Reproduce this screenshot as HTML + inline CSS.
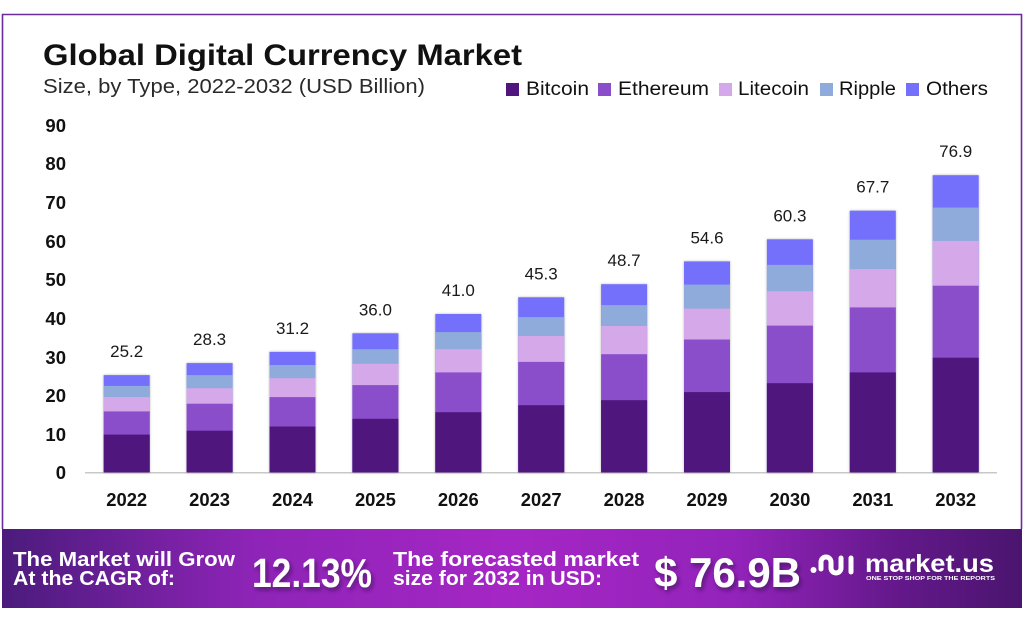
<!DOCTYPE html>
<html>
<head>
<meta charset="utf-8">
<style>
html,body{margin:0;padding:0;background:#fff;}
svg{display:block;}
text{font-family:"Liberation Sans",sans-serif;}
</style>
</head>
<body>
<svg width="1024" height="621" viewBox="0 0 1024 621" xmlns="http://www.w3.org/2000/svg">
<defs>
  <linearGradient id="band" x1="0" y1="0" x2="1" y2="0">
    <stop offset="0" stop-color="#4b1b7c"/>
    <stop offset="0.25" stop-color="#8f24b8"/>
    <stop offset="0.5" stop-color="#a526c4"/>
    <stop offset="0.72" stop-color="#9323bb"/>
    <stop offset="0.88" stop-color="#63188a"/>
    <stop offset="1" stop-color="#4a156e"/>
  </linearGradient>
  <filter id="bs" x="-20%" y="-10%" width="140%" height="120%">
    <feDropShadow dx="0" dy="0" stdDeviation="1.4" flood-color="#777" flood-opacity="0.55"/>
  </filter>
  <filter id="ts" x="-10%" y="-20%" width="130%" height="150%">
    <feDropShadow dx="2" dy="3" stdDeviation="2" flood-color="#2a0845" flood-opacity="0.6"/>
  </filter>
</defs>

<rect x="0" y="0" width="1024" height="621" fill="#fff"/>
<path d="M2.5 529 L2.5 14.5 L1021.5 14.5 L1021.5 529" fill="none" stroke="#6a2b9c" stroke-width="1.6"/>

<text x="43" y="65" font-size="30" font-weight="bold" fill="#111" textLength="479" lengthAdjust="spacingAndGlyphs">Global Digital Currency Market</text>
<text x="43" y="93" font-size="20" fill="#2a2a2a" textLength="382" lengthAdjust="spacingAndGlyphs">Size, by Type, 2022-2032 (USD Billion)</text>

<rect x="506" y="83" width="13" height="13" fill="#4f167e"/>
<text x="526" y="95" font-size="19" fill="#111" textLength="63" lengthAdjust="spacingAndGlyphs">Bitcoin</text>
<rect x="598" y="83" width="13" height="13" fill="#8a4ecb"/>
<text x="618" y="95" font-size="19" fill="#111" textLength="91" lengthAdjust="spacingAndGlyphs">Ethereum</text>
<rect x="719" y="83" width="13" height="13" fill="#d5a8ea"/>
<text x="738" y="95" font-size="19" fill="#111" textLength="71" lengthAdjust="spacingAndGlyphs">Litecoin</text>
<rect x="820" y="83" width="13" height="13" fill="#8eabdb"/>
<text x="839" y="95" font-size="19" fill="#111" textLength="57" lengthAdjust="spacingAndGlyphs">Ripple</text>
<rect x="906" y="83" width="13" height="13" fill="#7470fb"/>
<text x="926" y="95" font-size="19" fill="#111" textLength="62" lengthAdjust="spacingAndGlyphs">Others</text>

<g font-size="18.5" font-weight="bold" fill="#111" text-anchor="end">
  <text x="66" y="132">90</text>
  <text x="66" y="170">80</text>
  <text x="66" y="209">70</text>
  <text x="66" y="248">60</text>
  <text x="66" y="286">50</text>
  <text x="66" y="325">40</text>
  <text x="66" y="364">30</text>
  <text x="66" y="402">20</text>
  <text x="66" y="441">10</text>
  <text x="66" y="479">0</text>
</g>

<line x1="85" y1="472.8" x2="997" y2="472.8" stroke="#c8c8c8" stroke-width="1.5"/>

<g>
  <g filter="url(#bs)">
    <rect x="103.7" y="375.1" width="46" height="97.4" fill="#7470fb"/>
    <rect x="186.6" y="363.1" width="46" height="109.4" fill="#7470fb"/>
    <rect x="269.5" y="351.9" width="46" height="120.6" fill="#7470fb"/>
    <rect x="352.4" y="333.3" width="46" height="139.2" fill="#7470fb"/>
    <rect x="435.3" y="314.0" width="46" height="158.5" fill="#7470fb"/>
    <rect x="518.2" y="297.3" width="46" height="175.2" fill="#7470fb"/>
    <rect x="601.1" y="284.2" width="46" height="188.3" fill="#7470fb"/>
    <rect x="684.0" y="261.4" width="46" height="211.1" fill="#7470fb"/>
    <rect x="766.9" y="239.3" width="46" height="233.2" fill="#7470fb"/>
    <rect x="849.8" y="210.7" width="46" height="261.8" fill="#7470fb"/>
    <rect x="932.7" y="175.2" width="46" height="297.3" fill="#7470fb"/>
  </g>
  <g fill="#8eabdb">
    <rect x="103.7" y="385.9" width="46" height="86.6"/>
    <rect x="186.6" y="375.1" width="46" height="97.4"/>
    <rect x="269.5" y="365.0" width="46" height="107.5"/>
    <rect x="352.4" y="349.2" width="46" height="123.3"/>
    <rect x="435.3" y="332.1" width="46" height="140.4"/>
    <rect x="518.2" y="317.1" width="46" height="155.4"/>
    <rect x="601.1" y="305.1" width="46" height="167.4"/>
    <rect x="684.0" y="284.6" width="46" height="187.9"/>
    <rect x="766.9" y="264.9" width="46" height="207.6"/>
    <rect x="849.8" y="239.7" width="46" height="232.8"/>
    <rect x="932.7" y="207.6" width="46" height="264.9"/>
  </g>
  <g fill="#d5a8ea">
    <rect x="103.7" y="397.1" width="46" height="75.4"/>
    <rect x="186.6" y="388.2" width="46" height="84.3"/>
    <rect x="269.5" y="378.2" width="46" height="94.3"/>
    <rect x="352.4" y="363.8" width="46" height="108.7"/>
    <rect x="435.3" y="349.2" width="46" height="123.3"/>
    <rect x="518.2" y="336.0" width="46" height="136.5"/>
    <rect x="601.1" y="326.0" width="46" height="146.5"/>
    <rect x="684.0" y="308.6" width="46" height="163.9"/>
    <rect x="766.9" y="291.2" width="46" height="181.3"/>
    <rect x="849.8" y="269.1" width="46" height="203.4"/>
    <rect x="932.7" y="240.9" width="46" height="231.6"/>
  </g>
  <g fill="#8a4ecb">
    <rect x="103.7" y="411.4" width="46" height="61.1"/>
    <rect x="186.6" y="403.7" width="46" height="68.8"/>
    <rect x="269.5" y="397.1" width="46" height="75.4"/>
    <rect x="352.4" y="385.1" width="46" height="87.4"/>
    <rect x="435.3" y="372.4" width="46" height="100.1"/>
    <rect x="518.2" y="361.9" width="46" height="110.6"/>
    <rect x="601.1" y="354.2" width="46" height="118.3"/>
    <rect x="684.0" y="339.5" width="46" height="133.0"/>
    <rect x="766.9" y="325.6" width="46" height="146.9"/>
    <rect x="849.8" y="307.4" width="46" height="165.1"/>
    <rect x="932.7" y="285.7" width="46" height="186.8"/>
  </g>
  <g fill="#4f167e">
    <rect x="103.7" y="434.6" width="46" height="37.9"/>
    <rect x="186.6" y="430.7" width="46" height="41.8"/>
    <rect x="269.5" y="426.5" width="46" height="46.0"/>
    <rect x="352.4" y="418.8" width="46" height="53.7"/>
    <rect x="435.3" y="412.2" width="46" height="60.3"/>
    <rect x="518.2" y="405.2" width="46" height="67.3"/>
    <rect x="601.1" y="400.2" width="46" height="72.3"/>
    <rect x="684.0" y="392.1" width="46" height="80.4"/>
    <rect x="766.9" y="383.2" width="46" height="89.3"/>
    <rect x="849.8" y="372.4" width="46" height="100.1"/>
    <rect x="932.7" y="357.7" width="46" height="114.8"/>
  </g>
</g>

<g font-size="17" fill="#1a1a1a" text-anchor="middle">
  <text x="126.7" y="357.1">25.2</text>
  <text x="209.6" y="345.1">28.3</text>
  <text x="292.5" y="333.9">31.2</text>
  <text x="375.4" y="315.3">36.0</text>
  <text x="458.3" y="296.0">41.0</text>
  <text x="541.2" y="279.3">45.3</text>
  <text x="624.1" y="266.2">48.7</text>
  <text x="707.0" y="243.4">54.6</text>
  <text x="789.9" y="221.3">60.3</text>
  <text x="872.8" y="192.7">67.7</text>
  <text x="955.7" y="157.2">76.9</text>
</g>

<g font-size="18.4" font-weight="bold" fill="#111" text-anchor="middle">
  <text x="126.7" y="506">2022</text>
  <text x="209.6" y="506">2023</text>
  <text x="292.5" y="506">2024</text>
  <text x="375.4" y="506">2025</text>
  <text x="458.3" y="506">2026</text>
  <text x="541.2" y="506">2027</text>
  <text x="624.1" y="506">2028</text>
  <text x="707.0" y="506">2029</text>
  <text x="789.9" y="506">2030</text>
  <text x="872.8" y="506">2031</text>
  <text x="955.7" y="506">2032</text>
</g>

<rect x="2" y="529" width="1020" height="79" fill="url(#band)"/>

<g fill="#fff" font-weight="bold">
  <text x="13" y="566" font-size="20" textLength="222" lengthAdjust="spacingAndGlyphs">The Market will Grow</text>
  <text x="13" y="585" font-size="20" textLength="162" lengthAdjust="spacingAndGlyphs">At the CAGR of:</text>
  <text x="393" y="566" font-size="20" textLength="246" lengthAdjust="spacingAndGlyphs">The forecasted market</text>
  <text x="393" y="585" font-size="20" textLength="209" lengthAdjust="spacingAndGlyphs">size for 2032 in USD:</text>
</g>
<g fill="#fff" filter="url(#ts)">
  <text x="252" y="587" font-size="41" font-weight="bold" textLength="120" lengthAdjust="spacingAndGlyphs">12.13%</text>
  <text x="654" y="587" font-size="42" font-weight="bold" textLength="147" lengthAdjust="spacingAndGlyphs">$ 76.9B</text>
</g>

<g fill="none" stroke="#fff" stroke-width="5" stroke-linecap="round" stroke-linejoin="round">
  <path d="M821 569 L821 562 A5 5 0 0 1 831 562 L831 568 A5 5 0 0 0 841 568 L841 558"/>
  <path d="M851 558 L851 572"/>
</g>
<circle cx="813.5" cy="570" r="3" fill="#fff"/>
<text x="865" y="572" font-size="25" font-weight="bold" fill="#fff" textLength="129" lengthAdjust="spacingAndGlyphs">market.us</text>
<text x="866" y="580" font-size="5" font-weight="bold" fill="#fff" textLength="129" lengthAdjust="spacingAndGlyphs">ONE STOP SHOP FOR THE REPORTS</text>
</svg>
</body>
</html>
